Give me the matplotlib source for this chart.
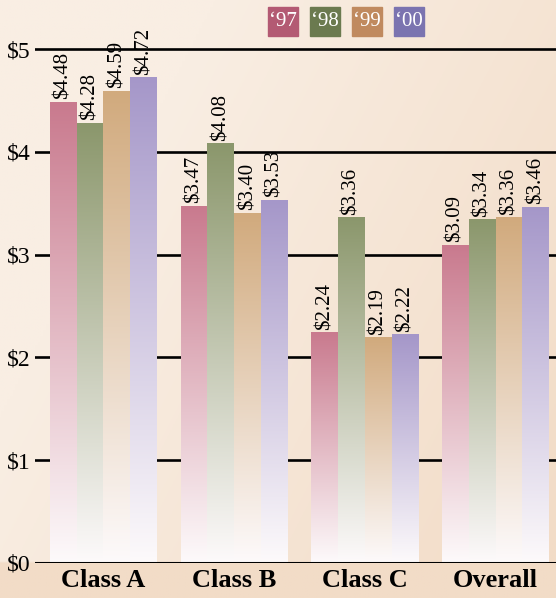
import numpy as np
import matplotlib.pyplot as plt
from matplotlib.colors import to_rgb
from matplotlib.patches import Rectangle

# Average values per class and year
categories = ['Class A', 'Class B', 'Class C', 'Overall']
years = ["\u201897", "\u201898", "\u201899", "\u201800"]
values = {
    "'97": [4.48, 3.47, 2.24, 3.09],
    "'98": [4.28, 4.08, 3.36, 3.34],
    "'99": [4.59, 3.40, 2.19, 3.36],
    "'00": [4.72, 3.53, 2.22, 3.46],
}
ytick_vals = [0, 1, 2, 3, 4, 5]
ytick_labels = ['$0', '$1', '$2', '$3', '$4', '$5']

bar_tops = ['#c97a8e', '#8b976c', '#d1aa7d', '#a597c9']
legend_cols = ['#b35a73', '#6b7a4f', '#c08a5f', '#7b74b0']
fade = np.array(to_rgb('#fdfafb'))

serif = ['Liberation Serif', 'DejaVu Serif']

W, H = 556, 598
fig = plt.figure(figsize=(W / 100, H / 100), dpi=100)

# soft peach background, lighter towards the upper left
bg = fig.add_axes([0, 0, 1, 1], zorder=-5)
gx, gy = np.meshgrid(np.linspace(0, 1, 200), np.linspace(0, 1, 200))
t = np.clip(0.9 * gx + 0.5 * gy - 0.35, 0, 1)
t[gy > 0.94] = 1.0
light = np.array(to_rgb('#f9eee3'))
dark = np.array(to_rgb('#f2dcc7'))
bg.imshow(light + (dark - light) * t[..., None], extent=[0, 1, 0, 1],
          aspect='auto', origin='upper')
bg.axis('off')

# main axes, x in group units, y in dollars
ax = fig.add_axes([35 / W, 35 / H, 521 / W, 563 / H])
ax.patch.set_alpha(0)
xmin, xmax = -0.524, 3.462
ymax = 5.477

bw = 0.2047
x = np.arange(len(categories))
for k, (yr, col) in enumerate(zip(values, bar_tops)):
    top = np.array(to_rgb(col))
    grad = np.linspace(0, 1, 256)[:, None, None]
    img = top * (1 - grad) + fade * grad  # full colour at top, pale at base
    for i, v in enumerate(values[yr]):
        x0 = x[i] - 2 * bw + k * bw
        ax.imshow(img, extent=[x0, x0 + bw, 0, v], aspect='auto',
                  origin='upper', zorder=3, interpolation='bilinear')
        ax.text(x0 + bw / 2, v + 0.03, f'${v:.2f}', rotation=90,
                ha='center', va='bottom', fontsize=15, family=serif,
                zorder=4)

for yv in ytick_vals[1:]:
    ax.axhline(yv, color='black', lw=1.9, zorder=1)
ax.axhline(0, color='black', lw=2.2, zorder=5)

ax.set_xlim(xmin, xmax)
ax.set_ylim(0, ymax)
ax.set_yticks(ytick_vals)
ax.set_yticklabels(ytick_labels, family=serif, fontsize=17)
ax.set_xticks(x)
ax.set_xticklabels(categories, family=serif, fontsize=19, fontweight='bold')
ax.tick_params(length=0, axis='y', pad=3)
ax.tick_params(length=0, axis='x', pad=4)
for s in ax.spines.values():
    s.set_visible(False)

# year key along the top
for k, (lab, col) in enumerate(zip(years, legend_cols)):
    lx = 268 + 42 * k
    fig.patches.append(Rectangle((lx / W, 1 - 36 / H), 30 / W, 29 / H,
                                 transform=fig.transFigure, color=col))
    fig.text((lx + 15) / W, 1 - 21.5 / H, lab, color='white', fontsize=15,
             family=serif, ha='center', va='center')

fig.savefig('out.png', dpi=100)
